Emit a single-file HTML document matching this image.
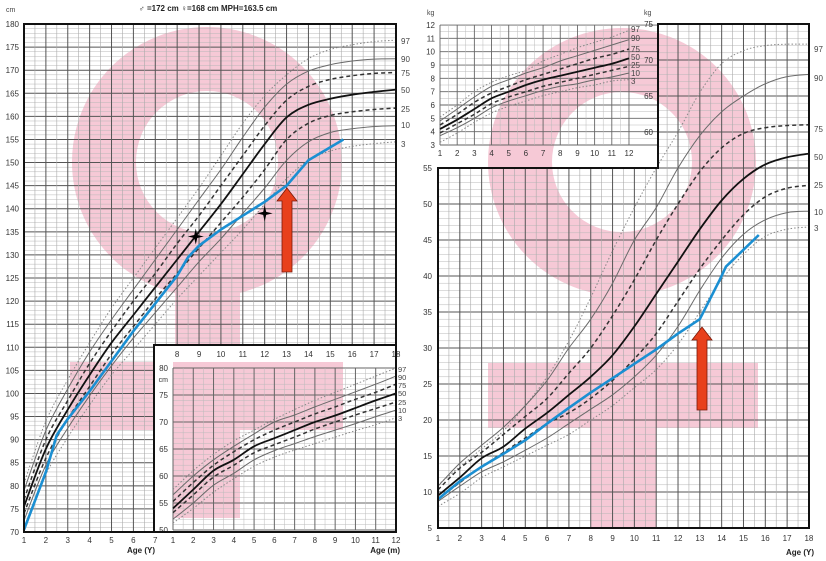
<!DOCTYPE html>
<html><head><meta charset="utf-8"><style>
html,body{margin:0;padding:0;background:#fff;}
svg{display:block;font-family:"Liberation Sans",sans-serif;}
</style></head><body>
<svg id="c" width="826" height="561" viewBox="0 0 826 561" xmlns="http://www.w3.org/2000/svg">
<defs>
<clipPath id="rclip"><polygon points="438,168 658,168 658,24 809,24 809,528 438,528"/></clipPath>
</defs>
</svg>
<script>
// ---- data ----
const ages = [1,2,3,4,5,6,7,8,9,10,11,12,13,14,15,16,17,18];
const pctNames = ['97','90','75','50','25','10','3'];
const hP97 = [80.5,94,103,111,118.5,125,131.5,138,144.5,151.5,158.5,164.5,169,172.5,174.5,175.5,176.2,176.5];
const hP90 = [79,92,101,109,116,122.5,129,135.5,142,148.5,155.5,162,167,169.8,171.2,172,172.4,172.5];
const hP75 = [77,90,98.5,106.5,113.5,120,126,132.5,138.5,145,151.5,158,163.5,166.5,168,168.8,169.3,169.5];
const hP50 = [75.5,88,96.5,104,111,117,123,129,135,141,147.5,154,159.8,162.5,163.8,164.7,165.3,165.8];
const hP25 = [74,86,94.5,101.5,108.5,114.5,120.5,126,131.5,137,142.5,148.5,155,158.5,160.2,161,161.5,161.8];
const hP10 = [72.5,84.5,92.5,99.5,106,112,117.5,123,128.5,133.5,139,144.5,150.5,154.5,156.5,157.3,157.8,158];
const hP3 = [71,82.5,90.5,97.5,104,109.5,115,120.5,125.5,130.5,135.5,141,146.5,150.5,152.5,153.5,154.1,154.5];
const patientHAges = [1,2,2.5,3,4,5,6,7,8,8.5,9,10,11,12,13,14,15.6];
const patientH = [70.5,83,91,94.5,100.5,107,113.5,119.5,125.5,129.5,132,135.5,138.5,141.5,145,150.5,155];
const starAges = [8.85,12];
const starH = [134,139];
const months = [1,2,3,4,5,6,7,8,9,10,11,12];
const mP97 = [57.5,61,64,66.5,68.5,70.5,72.3,74,75.5,77,78.5,80];
const mP90 = [56.5,60,63,65.5,67.8,70,71.3,72.8,74.2,75.6,77,78.5];
const mP75 = [55.3,58.8,62,64.5,66.7,68.5,70,71.5,72.8,74.2,75.5,77];
const mP50 = [54,57.5,61,63,65.5,67,68.5,70,71.2,72.6,74,75.3];
const mP25 = [53.2,56.5,59.8,62,64.3,65.8,67.2,68.7,70,71.3,72.5,73.7];
const mP10 = [52,55,58.3,60.5,63,64.7,66,67.3,68.5,69.7,71,72.2];
const mP3 = [51.3,54,57,59.5,61.8,63.5,64.8,66,67.2,68.4,69.5,70.8];
const wP97 = [11,13.5,16,18.5,22,26,31,37,43.5,49.5,55,60,65.5,69.5,71.3,72,72.2,72.2];
const wP90 = [10.8,14,16.5,19,22,25.5,30,34,39,45,49.5,55,59.5,62.8,65,66.7,67.7,68];
const wP75 = [10.3,13.3,15.5,18,20.5,23,26.5,30,34.5,39.5,45,50,54.5,57.8,59.8,60.6,60.9,61];
const wP50 = [9.5,12,14.7,16.3,18.8,21,23.5,26,29,33,37.5,42,46.5,50.5,53.5,55.5,56.5,57];
const wP25 = [9,11.3,13.5,15.5,17.5,19.5,21,23,25.5,28.5,32,36.5,41,45,48.5,51,52.2,52.6];
const wP10 = [8.7,10.8,12.8,14.2,15.8,17.5,19.5,21.5,23.5,26,29,33,38,42.5,45.8,47.8,48.8,49];
const wP3 = [8,9.8,12,13.5,15,16.5,18,20,22,24.5,27,30.5,35,39.5,43,45.5,46.5,46.8];
const patientWAges = [1,2,3,4,5,6,7,8,9,10,11,12,13,13.9,14.2,15.7];
const patientW = [9,11.5,13.5,15.3,17.2,19.5,21.7,23.8,25.8,27.8,29.8,32,34,39.4,41.3,45.7];
const iwP97 = [5.1,6,7,7.7,8.2,8.6,9.3,9.8,10.3,10.7,11.1,11.6];
const iwP90 = [4.8,5.7,6.6,7.4,7.9,8.4,8.8,9.3,9.7,10.1,10.5,10.9];
const iwP75 = [4.5,5.3,6.2,6.9,7.4,7.9,8.3,8.7,9.1,9.5,9.8,10.2];
const iwP50 = [4.2,4.9,5.7,6.5,7,7.5,7.9,8.2,8.5,8.8,9.1,9.5];
const iwP25 = [3.9,4.6,5.3,6.1,6.6,7,7.4,7.7,8,8.3,8.6,8.9];
const iwP10 = [3.7,4.3,5,5.8,6.3,6.7,7.1,7.4,7.6,7.9,8.1,8.4];
const iwP3 = [3.2,3.9,4.7,5.4,5.9,6.3,6.7,7,7.3,7.5,7.8,7.9];

// ---- scales ----
const X = a => 24 + (a-1)*21.88, Y = v => 532 - (v-70)*4.618;
const XM = m => 173 + (m-1)*20.27, YM = v => 530 - (v-50)*5.4;
const XR = a => 438 + (a-1)*21.82, YR = v => 528 - (v-5)*7.2;
const XW = m => 440 + (m-1)*17.18, YW = v => 145 - (v-3)*13.33;

const svg = document.getElementById('c');
const NS = 'http://www.w3.org/2000/svg';
function mk(tag, at, parent){const e=document.createElementNS(NS,tag);for(const k in at)e.setAttribute(k,at[k]);(parent||svg).appendChild(e);return e;}
function smooth(xs, ys){
  let d='M'+xs[0].toFixed(1)+','+ys[0].toFixed(1);
  for(let i=0;i<xs.length-1;i++){
    const x0=xs[Math.max(0,i-1)],y0=ys[Math.max(0,i-1)],x1=xs[i],y1=ys[i],x2=xs[i+1],y2=ys[i+1],x3=xs[Math.min(xs.length-1,i+2)],y3=ys[Math.min(xs.length-1,i+2)];
    d+=' C'+(x1+(x2-x0)/6).toFixed(1)+','+(y1+(y2-y0)/6).toFixed(1)+' '+(x2-(x3-x1)/6).toFixed(1)+','+(y2-(y3-y1)/6).toFixed(1)+' '+x2.toFixed(1)+','+y2.toFixed(1);
  }
  return d;
}
const styles = {
  '97':{stroke:'#888','stroke-width':1,'stroke-dasharray':'1.5 2'},
  '90':{stroke:'#6a6a6a','stroke-width':1},
  '75':{stroke:'#333','stroke-width':1.5,'stroke-dasharray':'4 3'},
  '50':{stroke:'#111','stroke-width':1.8},
  '25':{stroke:'#333','stroke-width':1.5,'stroke-dasharray':'4 3'},
  '10':{stroke:'#6a6a6a','stroke-width':1},
  '3':{stroke:'#888','stroke-width':1,'stroke-dasharray':'1.5 2'}
};
function curves(xs, sets, fx, fy, prefix, parent){
  sets.forEach((s,i)=>{
    const st=Object.assign({fill:'none'},styles[pctNames[i]]);
    st.d=smooth(xs.map(fx), s.map(fy));
    const p=mk('path',st,parent);
    
    
  });
}
const PINK='#f6c9d6';

// ===== LEFT: pink symbol =====
let e;
e=mk('circle',{cx:207,cy:162,r:103,fill:'none',stroke:PINK,'stroke-width':64});


e=mk('rect',{x:175,y:262,width:65,height:270,fill:PINK});


e=mk('rect',{x:70,y:362,width:273,height:68,fill:PINK});



// left grid
for(let v=70;v<=180;v++){
  e=mk('line',{x1:24,x2:396,y1:Y(v),y2:Y(v),stroke:v%5?'#b8b8b8':'#555','stroke-width':v%5?0.5:1});
  
  
}
for(let a=1;a<=18;a+=0.5){
  e=mk('line',{x1:X(a),x2:X(a),y1:24,y2:532,stroke:a%1?'#aaa':'#555','stroke-width':a%1?0.6:1});
  
  
}
curves(ages,[hP97,hP90,hP75,hP50,hP25,hP10,hP3],X,Y,'height');
e=mk('polyline',{points:patientHAges.map((a,i)=>X(a).toFixed(1)+','+Y(patientH[i]).toFixed(1)).join(' '),fill:'none',stroke:'#1b8fd2','stroke-width':2.6,'stroke-linejoin':'round'});


starAges.forEach((a,i)=>{
  const cx=X(a),cy=Y(starH[i]),r=8,q=1.5;
  const s=mk('polygon',{points:`${cx},${cy-r} ${cx+q},${cy-q} ${cx+r},${cy} ${cx+q},${cy+q} ${cx},${cy+r} ${cx-q},${cy+q} ${cx-r},${cy} ${cx-q},${cy-q}`,fill:'#000'});
  
  
});

// inset (months)
e=mk('rect',{x:155,y:346,width:241,height:186,fill:'#fff'});


e=mk('rect',{x:173,y:362,width:170,height:68,fill:PINK});


e=mk('rect',{x:173,y:430,width:67,height:88,fill:PINK});


for(let v=50;v<=80;v++){
  e=mk('line',{x1:173,x2:396,y1:YM(v),y2:YM(v),stroke:v%5?'#bbb':'#666','stroke-width':v%5?0.5:1});
  
  
}
for(let m=1;m<=12;m+=0.5){
  e=mk('line',{x1:XM(m),x2:XM(m),y1:YM(80),y2:530,stroke:m%1?'#bbb':'#666','stroke-width':m%1?0.5:1});
  
  
}
curves(months,[mP97,mP90,mP75,mP50,mP25,mP10,mP3],XM,YM,'inset-height');
// inset top tick labels (8..18) for main chart
for(let a=8;a<=18;a++){
  e=mk('text',{x:X(a),y:357,'font-size':8,'text-anchor':'middle',fill:'#333'});e.textContent=a;
  
  
}
for(let v=50;v<=80;v+=5){
  e=mk('text',{x:168,y:YM(v)+3,'font-size':8,'text-anchor':'end',fill:'#333'});e.textContent=v;
  
  
}
e=mk('text',{x:168,y:382,'font-size':7,'text-anchor':'end',fill:'#333'});e.textContent='cm';


for(let m=1;m<=12;m++){
  e=mk('text',{x:XM(m),y:543,'font-size':8,'text-anchor':'middle',fill:'#333'});e.textContent=m;
  
  
}
e=mk('text',{x:400,y:553,'font-size':8,'font-weight':'bold','text-anchor':'end',fill:'#222'});e.textContent='Age (m)';


[369,377,385,393,402,410,418].forEach((y,i)=>{
  e=mk('text',{x:398,y:y+3,'font-size':7.5,fill:'#444'});e.textContent=pctNames[i];
  
  
});

// left frames
e=mk('path',{d:'M24,24 H396 V345 H154 V532 H24 Z M154,532 H396 V345',fill:'none',stroke:'#111','stroke-width':2});



// left arrow
e=mk('polygon',{points:'282,272 292,272 292,201 297,201 287,188 277,201 282,201',fill:'#e8401c',stroke:'#7a1a0a','stroke-width':0.8});



// left labels
e=mk('text',{x:208,y:11,'font-size':8,'font-weight':'bold','text-anchor':'middle',fill:'#222'});e.textContent='♂ =172  cm  ♀=168 cm MPH=163.5 cm';


e=mk('text',{x:6,y:12,'font-size':7,fill:'#444'});e.textContent='cm';


for(let v=70;v<=180;v+=5){
  e=mk('text',{x:19,y:Y(v)+3,'font-size':8,'text-anchor':'end',fill:'#333'});e.textContent=v;
  
  
}
for(let a=1;a<=7;a++){
  e=mk('text',{x:X(a),y:543,'font-size':8,'text-anchor':'middle',fill:'#333'});e.textContent=a;
  
  
}
e=mk('text',{x:155,y:553,'font-size':8,'font-weight':'bold','text-anchor':'end',fill:'#222'});e.textContent='Age (Y)';


[41,59,73,90,109,125,144].forEach((y,i)=>{
  e=mk('text',{x:401,y:y+3,'font-size':8,fill:'#444'});e.textContent=pctNames[i];
  
  
});

// ===== RIGHT =====
e=mk('circle',{cx:622,cy:162,r:102,fill:'none',stroke:PINK,'stroke-width':64});


e=mk('rect',{x:591,y:262,width:65,height:266,fill:PINK});


e=mk('rect',{x:488,y:363,width:270,height:65,fill:PINK});


const rg=mk('g',{'clip-path':'url(#rclip)'});


for(let v=5;v<=75;v++){
  e=mk('line',{x1:438,x2:809,y1:YR(v),y2:YR(v),stroke:v%5?'#b8b8b8':'#555','stroke-width':v%5?0.5:1},rg);
  
  
}
for(let a=1;a<=18;a+=0.5){
  e=mk('line',{x1:XR(a),x2:XR(a),y1:24,y2:528,stroke:a%1?'#aaa':'#555','stroke-width':a%1?0.6:1},rg);
  
  
}
curves(ages,[wP97,wP90,wP75,wP50,wP25,wP10,wP3],XR,YR,'weight',rg);
e=mk('polyline',{points:patientWAges.map((a,i)=>XR(a).toFixed(1)+','+YR(patientW[i]).toFixed(1)).join(' '),fill:'none',stroke:'#1b8fd2','stroke-width':2.6,'stroke-linejoin':'round'},rg);


// weight inset grid
for(let v=3;v<=12;v+=0.5){
  e=mk('line',{x1:440,x2:658,y1:YW(v),y2:YW(v),stroke:v%1?'#bbb':'#666','stroke-width':v%1?0.5:0.9});
  
  
}
for(let m=1;m<=12;m+=0.5){
  e=mk('line',{x1:XW(m),x2:XW(m),y1:25,y2:145,stroke:m%1?'#bbb':'#666','stroke-width':m%1?0.5:0.9});
  
  
}
curves(months,[iwP97,iwP90,iwP75,iwP50,iwP25,iwP10,iwP3],XW,YW,'inset-weight');
e=mk('path',{d:'M438,168 H658 V24 H809 V528 H438 Z',fill:'none',stroke:'#111','stroke-width':2});


e=mk('polygon',{points:'697,410 707,410 707,340 712,340 702,327 692,340 697,340',fill:'#e8401c',stroke:'#7a1a0a','stroke-width':0.8});


for(let v=5;v<=55;v+=5){
  e=mk('text',{x:432,y:YR(v)+3,'font-size':8,'text-anchor':'end',fill:'#333'});e.textContent=v;
  
  
}
for(let v=60;v<=75;v+=5){
  e=mk('text',{x:653,y:YR(v)+3,'font-size':8,'text-anchor':'end',fill:'#333'});e.textContent=v;
  
  
}
for(let a=1;a<=18;a++){
  e=mk('text',{x:XR(a),y:541,'font-size':8,'text-anchor':'middle',fill:'#333'});e.textContent=a;
  
  
}
e=mk('text',{x:814,y:555,'font-size':8,'font-weight':'bold','text-anchor':'end',fill:'#222'});e.textContent='Age (Y)';


e=mk('text',{x:644,y:15,'font-size':7,fill:'#444'});e.textContent='kg';


e=mk('text',{x:427,y:15,'font-size':7,fill:'#444'});e.textContent='kg';


for(let v=3;v<=12;v++){
  e=mk('text',{x:435,y:YW(v)+3,'font-size':8,'text-anchor':'end',fill:'#333'});e.textContent=v;
  
  
}
for(let m=1;m<=12;m++){
  e=mk('text',{x:XW(m),y:156,'font-size':8,'text-anchor':'middle',fill:'#333'});e.textContent=m;
  
  
}
[29,38,49,57,65,73,81].forEach((y,i)=>{
  e=mk('text',{x:631,y:y+3,'font-size':8,fill:'#444'});e.textContent=pctNames[i];
  
  
});
[49,78,129,157,185,212,228].forEach((y,i)=>{
  e=mk('text',{x:814,y:y+3,'font-size':8,fill:'#444'});e.textContent=pctNames[i];
  
  
});
</script>
</body></html>
